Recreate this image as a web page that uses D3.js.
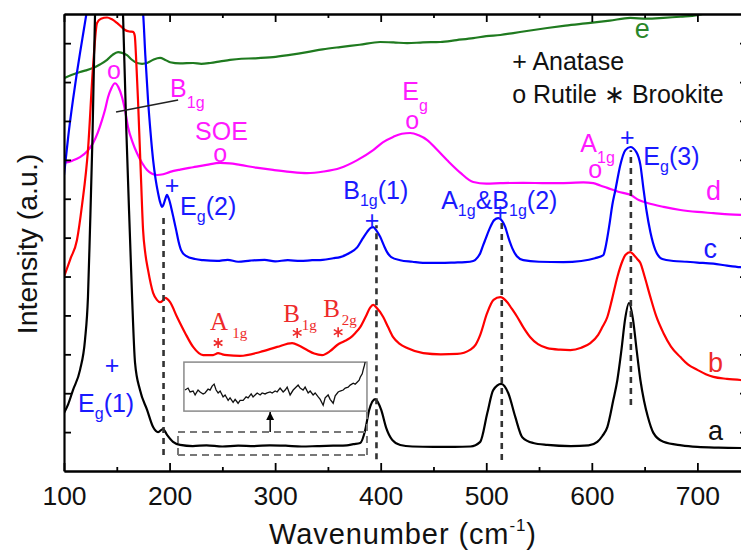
<!DOCTYPE html>
<html>
<head>
<meta charset="utf-8">
<script src="https://cdn.jsdelivr.net/npm/d3@7"></script>
<style>
  body { margin: 0; background: #fff; }
  svg { display: block; font-family: "Liberation Sans", Arial, sans-serif; }
</style>
</head>
<body>
<script>
// Raman spectra a-e, [wavenumber (cm-1), intensity (a.u., stacked)]
const seriesA = [[100,1.49],[104,1.72],[108.5,2.08],[115.2,2.60],[119.9,3.37],[122.7,4.47],[124.6,6.20],[127,8.6],[129.4,11.75],[136,14.5],[143,15.5],[150,14.5],[155.9,11.75],[159,8.8],[162.6,5.94],[164.5,4.47],[167.3,2.78],[172,2.08],[178.7,1.57],[184.4,1.13],[189.1,1.00],[193.8,1.08],[197.6,0.93],[203.3,0.75],[210,0.67],[222,0.64],[235,0.66],[250,0.63],[265,0.65],[280,0.64],[295,0.66],[310,0.65],[325,0.63],[340,0.64],[355,0.65],[368,0.66],[374,0.69],[380.6,0.72],[385.3,1.05],[389.1,1.57],[394.8,1.85],[400.5,1.57],[405.2,1.11],[410.9,0.80],[418.5,0.67],[430,0.63],[450,0.62],[470,0.62],[485,0.63],[494.3,0.75],[501,1.49],[506.6,2.08],[514.2,2.24],[520.9,2.0],[527.5,1.39],[534.1,0.87],[544.5,0.72],[557.8,0.67],[580,0.64],[597,0.66],[605.2,0.75],[610,0.9],[614.7,1.13],[620.4,1.83],[624.2,2.34],[628,3.1],[631.5,3.9],[635.2,4.32],[639,3.9],[642.5,3.1],[646,2.34],[649.5,1.8],[653,1.4],[658.3,0.98],[667.8,0.75],[685,0.66],[700,0.62],[720,0.60],[747,0.59]];

const seriesB = [[100,4.99],[106,5.45],[112.3,5.94],[117.1,6.84],[122.7,8.25],[127.5,10.39],[131.3,11.52],[135,11.63],[140.8,11.66],[145,11.62],[150.2,11.52],[154,11.43],[157.8,11.34],[162,11.3],[165.4,11.29],[167,11.2],[168.5,10.5],[170.1,9.54],[173.0,7.48],[174.9,6.20],[177,5.6],[179.6,5.17],[184.4,4.58],[188,4.4],[191,4.34],[193.5,4.38],[195.7,4.45],[198,4.42],[200.5,4.34],[207.1,3.96],[214.7,3.55],[222.3,3.19],[231.8,2.98],[241.2,2.98],[246,3.03],[250,3.0],[254.5,2.98],[266.8,2.96],[285.8,3.06],[301.9,3.19],[316.1,3.29],[323,3.22],[330.3,3.11],[337,3.02],[344.5,2.98],[352,3.08],[358.8,3.24],[365,3.33],[371.1,3.42],[376,3.55],[380.6,3.70],[386,3.98],[390,4.2],[392.9,4.27],[396,4.2],[402.4,3.96],[407,3.7],[411.8,3.44],[418,3.27],[425.1,3.16],[440.3,3.03],[457,3.0],[472.5,3.01],[485,3.12],[490,3.25],[494.3,3.5],[500.7,4.05],[506.9,4.4],[513.3,4.47],[519.9,4.34],[524,4.18],[529.4,3.96],[535,3.7],[541.7,3.44],[549,3.26],[557.8,3.16],[570,3.12],[579.6,3.11],[590,3.17],[598.6,3.29],[606,3.5],[610,3.7],[614.7,3.96],[619,4.4],[624.2,4.99],[629,5.4],[632,5.56],[636.5,5.63],[640,5.55],[643,5.45],[646,5.35],[650,5.0],[655.5,4.47],[661,3.98],[667.8,3.55],[675,3.2],[683.9,2.93],[691,2.74],[700,2.60],[708,2.49],[715.2,2.42],[728,2.37],[740.8,2.34],[747,2.31]];

const seriesC = [[100,7.61],[104,8.6],[108.5,9.54],[112,10.2],[115.2,10.75],[118.5,11.3],[121.8,11.85],[135,14.0],[147,14.6],[160,14.0],[174.9,11.77],[177,10.7],[179.6,9.54],[182,8.7],[184.4,8.0],[186.8,7.5],[189.1,7.15],[191,6.92],[192.9,6.79],[194.4,6.86],[195.7,6.97],[197.6,7.10],[199,7.02],[200.5,6.89],[201.4,6.79],[203.8,6.5],[206.2,6.2],[208.5,5.9],[210.9,5.68],[215.6,5.53],[224.2,5.45],[232,5.42],[245,5.40],[255,5.43],[265,5.38],[276.3,5.41],[290,5.43],[300,5.39],[312,5.42],[323.7,5.40],[335,5.42],[345,5.43],[355,5.47],[361.6,5.5],[370,5.6],[377.7,5.75],[383,5.98],[387.2,6.15],[390.5,6.25],[392.9,6.27],[396,6.18],[399.5,6.02],[403,5.8],[406.2,5.62],[410,5.5],[418.5,5.42],[430,5.38],[440,5.35],[456.4,5.35],[470,5.36],[480,5.37],[487.7,5.4],[492,5.5],[494.3,5.6],[497,5.8],[499,5.94],[503.8,6.27],[507.5,6.45],[511.4,6.50],[515,6.43],[518,6.27],[521,6.0],[524.6,5.73],[529,5.52],[535.1,5.42],[550,5.38],[573,5.37],[590,5.40],[603,5.47],[610.9,5.55],[612.8,5.73],[616.6,6.32],[619.4,6.84],[622.3,7.22],[627,7.87],[631.8,8.25],[636.5,8.33],[642.2,8.20],[646,7.87],[648.8,7.28],[651.7,6.71],[655.5,6.14],[660.2,5.68],[666.8,5.45],[677.3,5.40],[690,5.38],[700,5.36],[715.2,5.33],[728,5.28],[740.8,5.24],[747,5.23]];

const seriesD = [[100,7.92],[108,7.98],[115.2,8.07],[122,8.22],[127.5,8.43],[132,8.7],[136,9.02],[139,9.3],[141.7,9.61],[145,9.85],[148.3,9.97],[151.5,9.87],[155,9.61],[158,9.25],[160.7,8.84],[165,8.45],[169.2,8.17],[174,7.92],[178.7,7.74],[183,7.65],[188.2,7.61],[194,7.63],[200.5,7.69],[210,7.75],[222.3,7.81],[235,7.87],[247.9,7.92],[257,7.91],[266.8,7.87],[282,7.80],[298.1,7.74],[314,7.69],[330.3,7.66],[346,7.70],[361.6,7.79],[377,7.98],[392.9,8.25],[402,8.45],[411.8,8.59],[420,8.67],[428,8.69],[436,8.63],[444.1,8.51],[453,8.27],[463,7.99],[475,7.68],[487.7,7.43],[500,7.39],[513.3,7.40],[535,7.41],[557.8,7.40],[580,7.41],[592,7.42],[601.4,7.40],[608,7.34],[614.7,7.28],[625,7.18],[636.5,7.10],[645,6.96],[652.6,6.89],[668,6.79],[683.9,6.71],[700,6.66],[715.2,6.63],[730,6.60],[747,6.58]];

const seriesE = [[100,10.10],[107,10.18],[115.2,10.26],[121,10.3],[127.5,10.36],[134,10.45],[140.8,10.57],[146,10.7],[151.2,10.77],[155,10.75],[159.7,10.69],[164,10.58],[169.2,10.49],[174,10.47],[178.7,10.49],[185,10.58],[191,10.62],[196,10.57],[200.5,10.51],[210,10.48],[222.3,10.49],[230,10.47],[238.4,10.49],[248,10.53],[257.3,10.57],[268,10.6],[280,10.61],[298.1,10.64],[314,10.7],[330.3,10.77],[345,10.84],[361.6,10.90],[380,10.96],[399.5,11.03],[412,11.02],[425.1,11.00],[440,11.02],[456.4,11.03],[472,11.08],[487.7,11.13],[500,11.18],[513.3,11.21],[525.6,11.26],[540,11.32],[557.8,11.39],[575,11.45],[598.6,11.52],[617,11.58],[636.5,11.65],[652,11.63],[667.8,11.65],[684,11.68],[700,11.72],[708,11.77],[715.2,11.80],[728,11.8],[740.8,11.80],[747,11.81]];

// magnified baseline of spectrum a (inset), relative units
const insetA = [[214.7,0.43],[217.5,0.47],[219.4,0.39],[222.3,0.41],[224.2,0.33],[227,0.43],[228.9,0.39],[231.8,0.35],[233.6,0.37],[236.5,0.45],[238.4,0.43],[240.3,0.51],[242.2,0.55],[244.1,0.43],[246,0.37],[247.9,0.41],[250.7,0.29],[252.6,0.33],[255.5,0.22],[257.3,0.27],[260.2,0.18],[262.1,0.24],[264.9,0.16],[266.8,0.22],[269.7,0.22],[272.5,0.29],[274.4,0.27],[277.3,0.35],[279.1,0.29],[283,0.37],[285.8,0.33],[287.7,0.37],[290.5,0.35],[292.4,0.37],[295.3,0.39],[297.2,0.37],[300,0.41],[301.9,0.39],[304.7,0.47],[307.6,0.39],[309.5,0.43],[311.4,0.49],[314.2,0.33],[317.1,0.43],[319,0.47],[321.8,0.53],[323.7,0.47],[326.5,0.43],[328.4,0.49],[331.3,0.37],[333.2,0.41],[336,0.33],[337.9,0.37],[340.8,0.29],[342.7,0.24],[345.5,0.12],[347.4,0.27],[350.2,0.33],[352.1,0.24],[355,0.16],[356.9,0.31],[359.7,0.39],[361.6,0.41],[364.5,0.43],[366.4,0.47],[369.2,0.49],[371.1,0.53],[374,0.57],[375.8,0.55],[377.7,0.59],[379.6,0.63],[380.6,0.69],[382.5,0.76],[383.4,0.84],[384.4,0.92],[385.3,1.0]];

const xMajor = [100, 200, 300, 400, 500, 600, 700];
const xMinor = [150, 250, 350, 450, 550, 650];
const yTicks = [1, 2, 3, 4, 5, 6, 7, 8, 9, 10, 11];

// dashed guide lines: [wavenumber, from, to]
const guideLines = [[194.3, 0.41, 6.58], [396, 0.30, 6.32], [514.7, 0.28, 6.40], [637, 1.70, 8.25]];

const width = 741, height = 551;
const plot = { left: 64, right: 747, top: 14, bottom: 471 };

const x = d3.scaleLinear().domain([100, 747]).range([plot.left, plot.right]);
const y = d3.scaleLinear().domain([0, 11.75]).range([plot.bottom, plot.top]);

const svg = d3.select("body").append("svg")
  .attr("width", width)
  .attr("height", height);

const defs = svg.append("defs");
defs.append("clipPath").attr("id", "plotclip")
  .append("rect")
  .attr("x", plot.left).attr("y", plot.top)
  .attr("width", plot.right - plot.left).attr("height", plot.bottom - plot.top);
defs.append("marker")
  .attr("id", "arrow")
  .attr("viewBox", "0 0 10 10")
  .attr("refX", 10).attr("refY", 5)
  .attr("markerUnits", "userSpaceOnUse")
  .attr("markerWidth", 8).attr("markerHeight", 8)
  .attr("orient", "auto")
  .append("path").attr("d", "M0,0 L10,5 L0,10 z").attr("fill", "#000");

const line = d3.line()
  .x(d => x(d[0]))
  .y(d => y(d[1]))
  .curve(d3.curveMonotoneX);

const curves = svg.append("g").attr("clip-path", "url(#plotclip)");
const spectra = [
  { data: seriesE, color: "#1f7a1f" },
  { data: seriesD, color: "#ff00ff" },
  { data: seriesC, color: "#0000ff" },
  { data: seriesB, color: "#ff0000" },
  { data: seriesA, color: "#000000" }
];
spectra.forEach(s => {
  curves.append("path")
    .datum(s.data)
    .attr("d", line)
    .attr("fill", "none")
    .attr("stroke", s.color)
    .attr("stroke-width", 2.2)
    .attr("stroke-linejoin", "round");
});

// dashed guides
svg.append("g").selectAll("line")
  .data(guideLines)
  .enter().append("line")
  .attr("x1", d => x(d[0])).attr("x2", d => x(d[0]))
  .attr("y1", d => y(d[1])).attr("y2", d => y(d[2]))
  .attr("stroke", "#333")
  .attr("stroke-width", 2.6)
  .attr("stroke-dasharray", "6,5");

// magnified region box + inset
const mag = { w0: 208, w1: 387, v0: 0.41, v1: 1.0 };
const inset = { w0: 213.6, w1: 387, v0: 1.54, v1: 2.80 };
svg.append("path")
  .attr("d", "M" + x(mag.w0) + "," + y(mag.v1) + "H" + x(mag.w1) +
             "M" + x(mag.w0) + "," + y(mag.v0) + "H" + x(mag.w1) +
             "M" + x(mag.w0) + "," + y(mag.v0) + "V" + y(mag.v1) +
             "M" + x(mag.w1) + "," + y(mag.v0) + "V" + y(inset.v0))
  .attr("fill", "none")
  .attr("stroke", "#777")
  .attr("stroke-width", 2)
  .attr("stroke-dasharray", "7,5");

svg.append("rect")
  .attr("x", x(inset.w0)).attr("y", y(inset.v1))
  .attr("width", x(inset.w1) - x(inset.w0))
  .attr("height", y(inset.v0) - y(inset.v1))
  .attr("fill", "#fff")
  .attr("stroke", "#8a8a8a")
  .attr("stroke-width", 1.5);

const iy = d3.scaleLinear().domain([0, 1]).range([y(inset.v0), y(inset.v1)]);
svg.append("path")
  .datum(insetA)
  .attr("d", d3.line().x(d => x(d[0])).y(d => iy(d[1])))
  .attr("fill", "none")
  .attr("stroke", "#111")
  .attr("stroke-width", 1.3);

svg.append("line")
  .attr("x1", x(295.3)).attr("x2", x(295.3))
  .attr("y1", y(mag.v1)).attr("y2", y(inset.v0) + 1)
  .attr("stroke", "#000").attr("stroke-width", 1.5)
  .attr("marker-end", "url(#arrow)");

// axes with inward ticks
function styleAxis(g) {
  g.selectAll(".domain").attr("stroke-width", 2.2);
  g.selectAll(".tick line").attr("stroke-width", 1.8);
}
svg.append("g").attr("transform", "translate(0," + plot.bottom + ")")
  .call(d3.axisBottom(x).tickValues(xMinor).tickSizeInner(-4).tickSizeOuter(0).tickFormat(""))
  .call(styleAxis);
svg.append("g").attr("transform", "translate(0," + plot.bottom + ")")
  .call(d3.axisBottom(x).tickValues(xMajor).tickSizeInner(-8).tickSizeOuter(0).tickPadding(15).tickFormat(d3.format("d")))
  .call(styleAxis)
  .call(g => g.selectAll("text").attr("font-size", 26.5).attr("fill", "#111").attr("font-family", "Liberation Sans, Arial, sans-serif"));
svg.append("g").attr("transform", "translate(0," + plot.top + ")")
  .call(d3.axisTop(x).tickValues(xMinor).tickSizeInner(-4).tickSizeOuter(0).tickFormat(""))
  .call(styleAxis);
svg.append("g").attr("transform", "translate(0," + plot.top + ")")
  .call(d3.axisTop(x).tickValues(xMajor).tickSizeInner(-8).tickSizeOuter(0).tickFormat(""))
  .call(styleAxis);
svg.append("g").attr("transform", "translate(" + plot.left + ",0)")
  .call(d3.axisLeft(y).tickValues(yTicks).tickSizeInner(-7).tickSizeOuter(0).tickFormat(""))
  .call(styleAxis);
svg.append("g").attr("transform", "translate(" + plot.right + ",0)")
  .call(d3.axisRight(y).tickValues(yTicks).tickSizeInner(-7).tickSizeOuter(0).tickFormat(""))
  .call(styleAxis);

// axis titles
const xTitle = svg.append("text")
  .attr("x", 403).attr("y", 544)
  .attr("text-anchor", "middle")
  .attr("font-size", 29)
  .attr("letter-spacing", 0.9)
  .attr("fill", "#111");
xTitle.append("tspan").text("Wavenumber (cm");
xTitle.append("tspan").text("-1").attr("font-size", 17).attr("dy", -13);
xTitle.append("tspan").text(")").attr("dy", 13);

svg.append("text")
  .attr("transform", "translate(37,244) rotate(-90)")
  .attr("text-anchor", "middle")
  .attr("font-size", 28.5)
  .attr("fill", "#111")
  .text("Intensity (a.u.)");

// rich text helper: parts = [{t, sub, dx}]
function rich(px, py, parts, o) {
  const t = svg.append("text")
    .attr("x", px).attr("y", py)
    .attr("fill", o.color)
    .attr("font-size", o.size)
    .attr("text-anchor", o.anchor || "start");
  if (o.family) t.attr("font-family", o.family);
  let shift = 0;
  parts.forEach(p => {
    const target = p.sub ? o.subShift : 0;
    const ts = t.append("tspan").text(p.t).attr("dy", target - shift);
    if (p.sub) ts.attr("font-size", o.subSize);
    if (p.dx) ts.attr("dx", p.dx);
    shift = target;
  });
  return t;
}

const blue = "#1a1aff", magenta = "#ff19ff", red = "#ee2a2a", green = "#2a862a";
const serif = "Liberation Serif, Times New Roman, serif";

// legend
rich(x(524.6), y(10.31), [{ t: "+ Anatase" }], { color: "#111", size: 25 });
rich(x(524.6), y(9.46), [{ t: "o Rutile \u2217 Brookite" }], { color: "#111", size: 25 });

// curve letters
const curveTags = [["e", 647.9, 11.13, green], ["d", 715.2, 6.97, magenta], ["c", 712.3, 5.48, blue], ["b", 717.1, 2.55, red], ["a", 717.1, 0.80, "#111"]];
curveTags.forEach(c => rich(x(c[1]), y(c[2]), [{ t: c[0] }], { color: c[3], size: 27, anchor: "middle" }));

// anatase modes (blue)
const bOpt = { color: blue, size: 25, subSize: 16, subShift: 7 };
rich(x(210), y(6.58), [{ t: "E" }, { t: "g", sub: true }, { t: "(2)" }], bOpt);
rich(x(364.5), y(6.99), [{ t: "B" }, { t: "1g", sub: true }, { t: "(1)" }], bOpt);
rich(x(457.3), y(6.74), [{ t: "A" }, { t: "1g", sub: true }, { t: "&B" }, { t: "1g", sub: true }, { t: "(2)" }], bOpt);
rich(x(648.8), y(7.87), [{ t: "E" }, { t: "g", sub: true }, { t: "(3)" }], bOpt);
rich(x(113.3), y(1.52), [{ t: "E" }, { t: "g", sub: true }, { t: "(1)" }], bOpt);
const plusMarks = [[202.4, 7.35], [391.9, 6.45], [513.3, 6.66], [633.6, 8.59], [145.5, 2.72]];
svg.append("g").selectAll("text")
  .data(plusMarks)
  .enter().append("text")
  .attr("x", d => x(d[0])).attr("y", d => y(d[1]))
  .attr("dominant-baseline", "central")
  .attr("text-anchor", "middle")
  .attr("font-size", 25).attr("fill", blue)
  .text("+");

// rutile modes (magenta)
const mOpt = { color: magenta, size: 25, subSize: 16, subShift: 11 };
rich(x(200.5), y(9.61), [{ t: "B" }, { t: "1g", sub: true }], mOpt);
rich(x(224.2), y(8.51), [{ t: "SOE" }], mOpt);
rich(x(420.4), y(9.54), [{ t: "E" }, { t: "g", sub: true }], mOpt);
rich(x(589.1), y(8.20), [{ t: "A" }, { t: "1g", sub: true }], mOpt);
const rutileMarks = [[147.4, 10.26], [247.9, 8.12], [429.9, 8.96], [603.3, 7.70]];
svg.append("g").selectAll("text")
  .data(rutileMarks)
  .enter().append("text")
  .attr("x", d => x(d[0])).attr("y", d => y(d[1]))
  .attr("dy", "0.27em")
  .attr("text-anchor", "middle")
  .attr("font-size", 25).attr("fill", magenta)
  .text("o");
svg.append("line")
  .attr("x1", x(208.1)).attr("y1", y(9.54))
  .attr("x2", x(149.3)).attr("y2", y(9.23))
  .attr("stroke", "#222").attr("stroke-width", 1.5);

// brookite modes (red, serif)
const rOpt = { color: red, size: 25, subSize: 15, subShift: 8, family: serif };
rich(x(238.4), y(3.62), [{ t: "A" }, { t: "1g", sub: true, dx: 4 }], rOpt);
rich(x(307.6), y(3.83), [{ t: "B" }, { t: "1g", sub: true, dx: 2 }], rOpt);
rich(x(345.5), y(3.96), [{ t: "B" }, { t: "2g", sub: true, dx: 2 }], rOpt);
const brookiteMarks = [[246, 3.29], [320.9, 3.55], [359.7, 3.57]];
svg.append("g").selectAll("path")
  .data(brookiteMarks)
  .enter().append("path")
  .attr("transform", d => "translate(" + x(d[0]) + "," + y(d[1]) + ")")
  .attr("d", d3.symbol(d3.symbolAsterisk, 70))
  .attr("fill", "none")
  .attr("stroke", red)
  .attr("stroke-width", 1.6);
</script>
</body>
</html>
